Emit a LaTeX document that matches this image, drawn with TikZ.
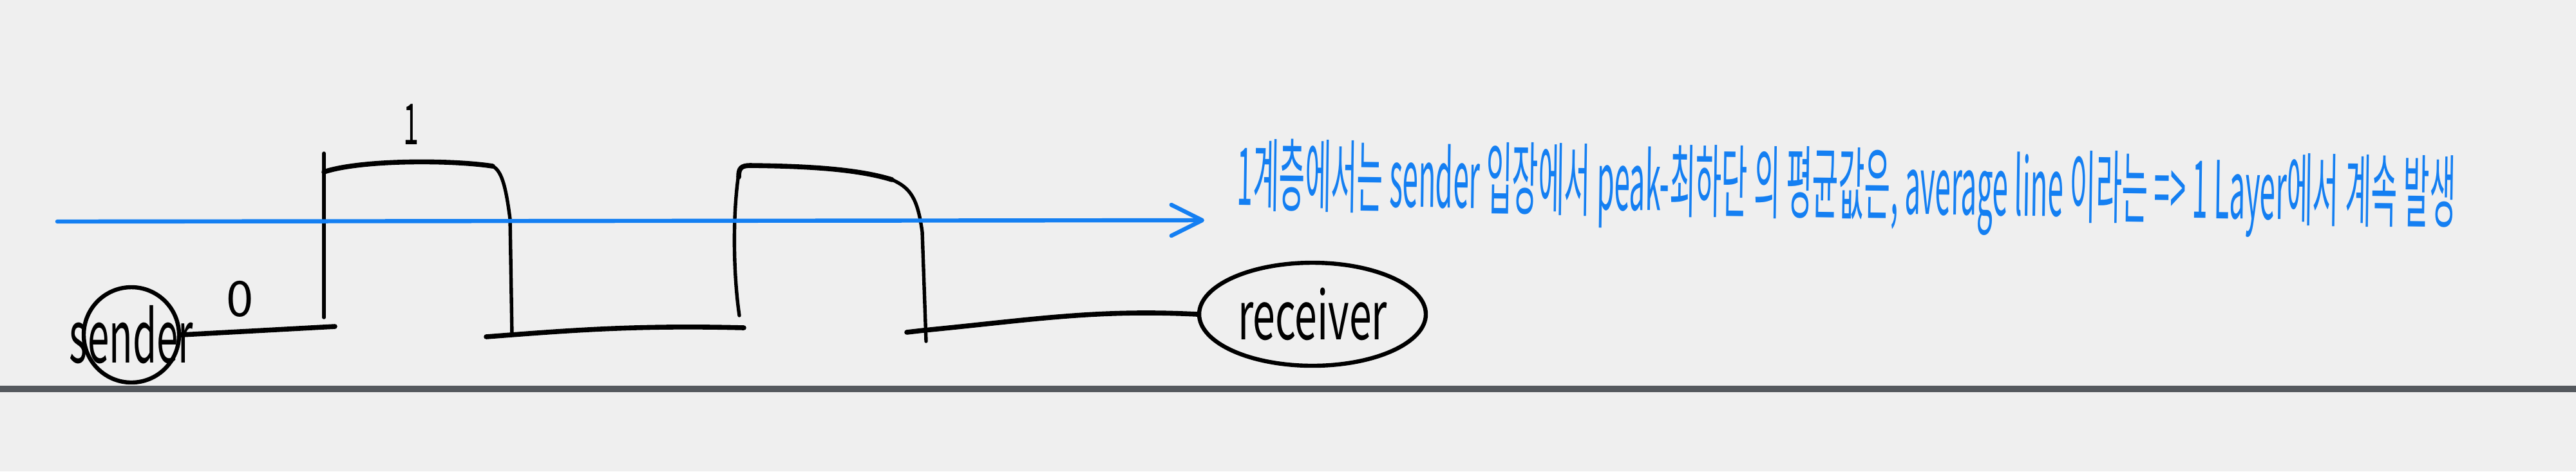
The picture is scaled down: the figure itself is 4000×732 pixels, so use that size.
\documentclass[tikz,border=0pt]{standalone}
\usepackage{fontspec}
\setmainfont{Noto Sans CJK KR}
\newfontfamily\kr{Noto Sans CJK KR}
\usetikzlibrary{shapes.geometric,arrows.meta}
\definecolor{paper}{HTML}{EFEFEF}
\definecolor{barcol}{HTML}{54585D}
\definecolor{pen}{HTML}{147FF2}
\begin{document}
\begin{tikzpicture}[x=0.25pt,y=-0.25pt,
  ink/.style={line width=1.35pt, line cap=round, line join=round, draw=black},
  thickink/.style={line width=1.9pt, line cap=round, line join=round, draw=black},
  blueink/.style={line width=1.6pt, line cap=round, line join=round, draw=pen},
  lbl/.style={inner sep=0pt, font=\kr},
  blob/.style={draw=black, line width=1.6pt, inner sep=0pt},
]
\fill[paper] (0,0) rectangle (4000,732);
\useasboundingbox (0,0) rectangle (4000,732);
\fill[barcol] (0,599) rectangle (4000,609);

% end points
\node[blob, circle, minimum size=37pt] (sender) at (204,520)
  {\makebox[0pt]{\raisebox{-4pt}{\resizebox{48pt}{\height}{\fontsize{28}{28}\selectfont sender}}}};
\node[blob, ellipse, minimum width=88pt, minimum height=40pt] (receiver) at (2038,488)
  {\makebox[0pt]{\raisebox{-3pt}{\resizebox{58pt}{\height}{\fontsize{26}{26}\selectfont receiver}}}};

% level labels
\node[lbl, font=\kr\fontsize{19}{19}\selectfont] (zero) at (373,464) {0};
\node[lbl, font=\kr\fontsize{22}{22}\selectfont] (one) at (638,193) {\resizebox{6pt}{\height}{1}};

% waveform
\coordinate (s0) at (520,507);
\draw[thickink] (sender.east) -- (s0);
\draw[ink] (503,238) -- (503,493);
\draw[thickink] (503,267) .. controls (560,248) and (700,248) .. (765,258);
\draw[ink] (765,258) .. controls (778,265) and (785,285) .. (792,340) -- (795,520);
\draw[thickink] (755,523) -- (794,520) .. controls (900,512) and (1000,505) .. (1155,509);
\draw[ink] (1148,490) .. controls (1138,420) and (1138,330) .. (1147,270);
\draw[thickink] (1147,275) .. controls (1147,262) and (1150,257) .. (1165,257) .. controls (1250,258) and (1330,262) .. (1385,279);
\draw[ink] (1385,279) .. controls (1415,292) and (1425,310) .. (1432,360) -- (1438,530);
\coordinate (r0) at (1408,516);
\draw[thickink] (r0) -- (1434,513) .. controls (1600,497) and (1700,480) .. (receiver.west);

% average line
\coordinate (a0) at (89,344);
\coordinate (a1) at (1870,342);
\draw[blueink, -{Straight Barb[length=12pt,width=12pt,round]}] (a0) -- (a1);

% note
\node[lbl, anchor=base west, text=pen, rotate=-0.8] (note) at (1920,318)
  {\resizebox{473pt}{\height}{\fontsize{31}{31}\selectfont 1계층에서는 sender 입장에서 peak-최하단 의 평균값은, average line 이라는 => 1 Layer에서 계속 발생}};
\end{tikzpicture}
\end{document}
